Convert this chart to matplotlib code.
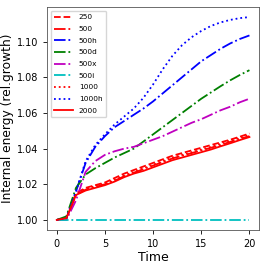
import numpy as np
import matplotlib
matplotlib.use("Agg")
import matplotlib.pyplot as plt

# time axis
t = np.arange(0, 21)

# internal energy, relative growth
e250 = [1.000, 1.001, 1.015, 1.018, 1.0195, 1.021, 1.0235, 1.026, 1.028, 1.030, 1.032,
        1.034, 1.036, 1.0375, 1.039, 1.0405, 1.042, 1.0435, 1.045, 1.0467, 1.0485]
e500 = [1.000, 1.001, 1.014, 1.017, 1.0185, 1.020, 1.022, 1.0245, 1.0265, 1.0285, 1.0305,
        1.0325, 1.0345, 1.036, 1.0375, 1.039, 1.0405, 1.042, 1.0438, 1.0455, 1.047]
e500h = [1.000, 1.001, 1.016, 1.032, 1.041, 1.047, 1.052, 1.0555, 1.059, 1.0625, 1.0665,
         1.071, 1.0755, 1.080, 1.0845, 1.089, 1.0925, 1.096, 1.099, 1.1015, 1.1035]
e500d = [1.000, 1.002, 1.018, 1.0255, 1.029, 1.032, 1.035, 1.0375, 1.040, 1.044, 1.048,
         1.052, 1.056, 1.060, 1.064, 1.068, 1.0715, 1.075, 1.0783, 1.0813, 1.084]
e500x = [1.000, 1.000, 1.011, 1.027, 1.033, 1.0365, 1.0385, 1.040, 1.041, 1.043, 1.045,
         1.047, 1.0495, 1.052, 1.0545, 1.0565, 1.059, 1.0615, 1.0635, 1.066, 1.068]
e500i = [1.000] * 21
e1000 = [1.000, 1.001, 1.0145, 1.0175, 1.019, 1.0205, 1.0225, 1.025, 1.027, 1.029, 1.031,
         1.033, 1.035, 1.0365, 1.038, 1.0395, 1.041, 1.0427, 1.0445, 1.046, 1.0478]
e1000h = [1.000, 1.001, 1.016, 1.033, 1.042, 1.048, 1.0535, 1.058, 1.0625, 1.0685, 1.076,
          1.0845, 1.092, 1.098, 1.1025, 1.106, 1.1088, 1.1108, 1.1122, 1.1132, 1.1138]
e2000 = [1.000, 1.001, 1.014, 1.0165, 1.018, 1.0195, 1.0215, 1.024, 1.026, 1.0275, 1.0295,
         1.0315, 1.0335, 1.035, 1.0365, 1.038, 1.0395, 1.0413, 1.043, 1.0448, 1.0465]

fig = plt.figure(figsize=(2.66, 2.66), dpi=100)
ax = fig.add_axes([0.177, 0.135, 0.797, 0.839])

lw = 1.3
ax.plot(t, e250, 'r--', lw=lw, label='250')
ax.plot(t, e500, 'r-.', lw=lw, label='500')
ax.plot(t, e500h, 'b-.', lw=lw, label='500h')
ax.plot(t, e500d, 'g-.', lw=lw, label='500d')
ax.plot(t, e500x, 'm-.', lw=lw, label='500x')
ax.plot(t, e500i, 'c-.', lw=lw, label='500i')
ax.plot(t, e1000, 'r:', lw=lw, label='1000')
ax.plot(t, e1000h, 'b:', lw=lw, label='1000h')
ax.plot(t, e2000, 'r-', lw=lw, label='2000')

ax.set_xticks([0, 5, 10, 15, 20])
ax.set_yticks([1.00, 1.02, 1.04, 1.06, 1.08, 1.10])
ax.tick_params(labelsize=7, length=3, width=0.6)
for s in ax.spines.values():
    s.set_linewidth(0.6)
    s.set_color('#555555')
ax.set_xlabel('Time', fontsize=9, labelpad=1)
ax.set_ylabel('Internal energy (rel.growth)', fontsize=8.8, labelpad=2)
ax.legend(loc='upper left', fontsize=5.3, handlelength=2.5, labelspacing=0.75,
          borderpad=0.5, handletextpad=0.8)

fig.savefig('out.png', dpi=100)
